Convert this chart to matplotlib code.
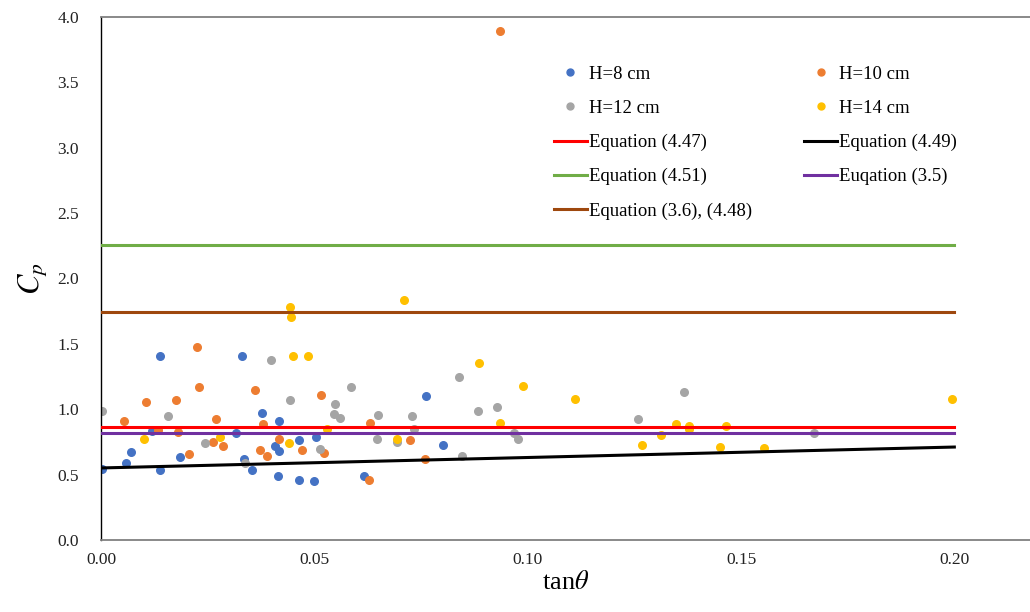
import matplotlib.pyplot as plt
from matplotlib.lines import Line2D

plt.rcParams['font.family'] = ['Liberation Serif', 'DejaVu Serif']
plt.rcParams['mathtext.fontset'] = 'stix'

# measured points, tan(theta) vs Cp
h8_x = [0.0003, 0.0058, 0.0070, 0.0120, 0.0138, 0.0139, 0.0185, 0.0316, 0.0331, 0.0334, 0.0353, 0.0377,
        0.0407, 0.0416, 0.0418, 0.0418, 0.0463, 0.0465, 0.0500, 0.0503, 0.0616, 0.0762, 0.0802]
h8_y = [0.543, 0.587, 0.673, 0.836, 1.410, 0.538, 0.637, 0.816, 1.405, 0.617, 0.533, 0.969,
        0.719, 0.487, 0.910, 0.678, 0.762, 0.461, 0.451, 0.788, 0.492, 1.101, 0.727]

h10_x = [0.0053, 0.0106, 0.0133, 0.0175, 0.0180, 0.0207, 0.0224, 0.0230, 0.0262, 0.0269, 0.0285, 0.0361,
         0.0373, 0.0380, 0.0388, 0.0417, 0.0471, 0.0515, 0.0523, 0.0629, 0.0630, 0.0725, 0.0760, 0.0935]
h10_y = [0.910, 1.055, 0.841, 1.073, 0.828, 0.658, 1.474, 1.170, 0.750, 0.923, 0.721, 1.147,
         0.686, 0.885, 0.642, 0.775, 0.688, 1.109, 0.668, 0.456, 0.892, 0.762, 0.622, 3.895]

h12_x = [0.0003, 0.0157, 0.0244, 0.0338, 0.0399, 0.0443, 0.0514, 0.0545, 0.0548, 0.0561, 0.0586, 0.0646,
         0.0649, 0.0694, 0.0730, 0.0733, 0.0840, 0.0845, 0.0884, 0.0927, 0.0969, 0.0977, 0.1259, 0.1366,
         0.1671]
h12_y = [0.987, 0.948, 0.744, 0.591, 1.377, 1.071, 0.698, 0.964, 1.038, 0.936, 1.170, 0.772,
         0.959, 0.752, 0.951, 0.846, 1.247, 0.645, 0.989, 1.020, 0.821, 0.772, 0.923, 1.134,
         0.818]

h14_x = [0.0101, 0.0279, 0.0441, 0.0442, 0.0445, 0.0451, 0.0484, 0.0529, 0.0694, 0.0709, 0.0887, 0.0936,
         0.0990, 0.1110, 0.1268, 0.1312, 0.1348, 0.1379, 0.1379, 0.1451, 0.1464, 0.1555, 0.1994]
h14_y = [0.770, 0.785, 0.742, 1.785, 1.703, 1.405, 1.410, 0.849, 0.772, 1.833, 1.351, 0.895,
         1.175, 1.076, 0.729, 0.800, 0.890, 0.872, 0.847, 0.709, 0.874, 0.701, 1.076]

# equation lines (end points)
eq_x = [0.0, 0.2]
eq_447 = [0.864, 0.864]
eq_449 = [0.551, 0.711]
eq_451 = [2.256, 2.256]
eq_35 = [0.818, 0.818]
eq_36 = [1.742, 1.742]

fig = plt.figure(figsize=(10.30, 6.12), dpi=100)
ax = fig.add_axes([101 / 1030, 72 / 612, 929 / 1030, 523 / 612])

ms = 30
ax.scatter(h8_x, h8_y, s=ms, color='#4472C4', zorder=2)
ax.scatter(h10_x, h10_y, s=ms, color='#ED7D31', zorder=2)
ax.scatter(h12_x, h12_y, s=ms, color='#A5A5A5', zorder=2)
ax.scatter(h14_x, h14_y, s=ms, color='#FFC000', zorder=2)

lw = 2.2
ax.plot(eq_x, eq_447, color='#FF0000', lw=lw, zorder=3)
ax.plot(eq_x, eq_449, color='black', lw=lw, zorder=3)
ax.plot(eq_x, eq_451, color='#70AD47', lw=lw, zorder=3)
ax.plot(eq_x, eq_35, color='#7030A0', lw=lw, zorder=3)
ax.plot(eq_x, eq_36, color='#9E480E', lw=lw, zorder=3)

ax.set_xlim(0, 929 / 4266.7)
ax.set_ylim(0, 4.0)
ax.set_xticks([0, 0.05, 0.10, 0.15, 0.20])
ax.set_xticklabels(['0.00', '0.05', '0.10', '0.15', '0.20'])
ax.set_yticks([0, 0.5, 1.0, 1.5, 2.0, 2.5, 3.0, 3.5, 4.0])
ax.set_yticklabels([f'{v:.1f}' for v in ax.get_yticks()])
ax.tick_params(axis='both', length=0, labelsize=12.5, colors='#222222')
ax.tick_params(axis='y', pad=16)
ax.tick_params(axis='x', pad=9)

ax.spines['right'].set_visible(False)
ax.spines['left'].set_color('black')
ax.spines['left'].set_linewidth(1.0)
ax.spines['bottom'].set_color('#808080')
ax.spines['bottom'].set_linewidth(1.3)
ax.spines['top'].set_color('#808080')
ax.spines['top'].set_linewidth(1.3)

ax.set_ylabel('$C_p$', fontsize=22, labelpad=6)
ax.set_xlabel(r'tan$\theta$', fontsize=19, labelpad=2)


def dot(c):
    return Line2D([], [], ls='none', marker='o', markersize=5, color=c)


def seg(c):
    return Line2D([], [], color=c, lw=lw)


handles = [dot('#4472C4'), dot('#A5A5A5'), seg('#FF0000'), seg('#70AD47'), seg('#9E480E'),
           dot('#ED7D31'), dot('#FFC000'), seg('black'), seg('#7030A0')]
labels = ['H=8 cm', 'H=12 cm', 'Equation (4.47)', 'Equation (4.51)', 'Equation (3.6), (4.48)',
          'H=10 cm', 'H=14 cm', 'Equation (4.49)', 'Euqation (3.5)']
ax.legend(handles, labels, ncol=2, frameon=False, fontsize=13.5,
          loc='upper left', bbox_to_anchor=(537 / 1030, 1 - 49 / 612), bbox_transform=fig.transFigure,
          handlelength=1.75, handletextpad=0.1, columnspacing=2.8, labelspacing=0.9)

fig.savefig('out.png', dpi=100)
